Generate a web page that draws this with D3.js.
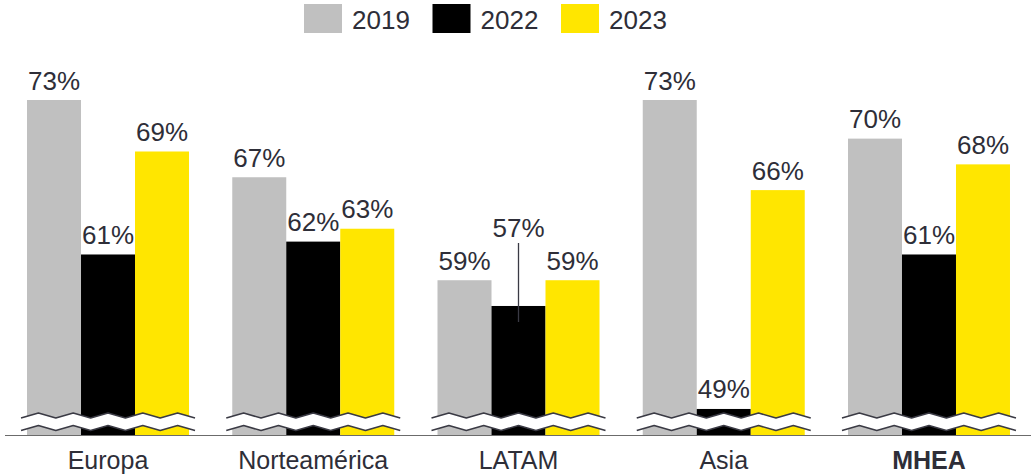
<!DOCTYPE html>
<html>
<head>
<meta charset="utf-8">
<script src="https://cdn.jsdelivr.net/npm/d3@7"></script>
<style>
  body { margin: 0; background: #fff; }
  svg { display: block; font-family: Arial, "Liberation Sans", sans-serif; }
</style>
</head>
<body>
<svg id="chart" width="1032" height="475"></svg>
<script>
// data
var categories = ["Europa", "Norteamérica", "LATAM", "Asia", "MHEA"];
var seriesNames = ["2019", "2022", "2023"];
var values2019 = [73, 67, 59, 73, 70];
var values2022 = [61, 62, 57, 49, 61];
var values2023 = [69, 63, 59, 66, 68];
var boldCategories = ["MHEA"];
// labels that sit above the bar on a leader line
var raisedLabels = [{ category: "LATAM", series: "2022", lift: 58.5 }];

var colors = { "2019": "#c0c0c0", "2022": "#000000", "2023": "#ffe600" };
var textColor = "#2e2e38";

var width = 1032,
    height = 475,
    baseline = 436;

var svg = d3.select("#chart");

var x0 = d3.scaleBand()
    .domain(categories)
    .range([5.4, 1031.6])
    .paddingInner(0.2107)
    .paddingOuter(0.1053);

var x1 = d3.scaleBand()
    .domain(seriesNames)
    .range([0, x0.bandwidth()]);

// axis is broken near the bottom, so the domain does not start at zero
var y = d3.scaleLinear()
    .domain([46.9, 73])
    .range([baseline, 100]);

var rows = categories.map(function (c, i) {
    return {
        category: c,
        values: [
            { series: "2019", value: values2019[i] },
            { series: "2022", value: values2022[i] },
            { series: "2023", value: values2023[i] }
        ]
    };
});

// legend
var legend = svg.append("g").attr("class", "legend");
var legendItem = legend.selectAll("g")
    .data(seriesNames)
    .enter().append("g")
    .attr("transform", function (d, i) { return "translate(" + (304 + i * 128.5) + ",4)"; });
legendItem.append("rect")
    .attr("width", 38)
    .attr("height", 29)
    .attr("fill", function (d) { return colors[d]; });
legendItem.append("text")
    .attr("x", 48)
    .attr("y", 24.5)
    .attr("font-size", 26)
    .attr("fill", textColor)
    .text(function (d) { return d; });

// bars
var group = svg.selectAll("g.group")
    .data(rows)
    .enter().append("g")
    .attr("class", "group")
    .attr("transform", function (d) { return "translate(" + x0(d.category) + ",0)"; });

group.selectAll("rect")
    .data(function (d) { return d.values; })
    .enter().append("rect")
    .attr("x", function (d) { return x1(d.series); })
    .attr("y", function (d) { return y(d.value); })
    .attr("width", x1.bandwidth())
    .attr("height", function (d) { return baseline - y(d.value); })
    .attr("fill", function (d) { return colors[d.series]; });

// value labels
group.each(function (row) {
    var g = d3.select(this);
    row.values.forEach(function (d) {
        var raised = raisedLabels.find(function (r) {
            return r.category === row.category && r.series === d.series;
        });
        var cx = x1(d.series) + x1.bandwidth() / 2;
        var ty = y(d.value) - 10.5;
        if (raised) {
            ty -= raised.lift;
            g.append("line")
                .attr("x1", cx).attr("x2", cx)
                .attr("y1", ty + 6).attr("y2", y(d.value) + 16)
                .attr("stroke", "#3a3a44")
                .attr("stroke-width", 1.3);
        }
        g.append("text")
            .attr("x", cx)
            .attr("y", ty)
            .attr("text-anchor", "middle")
            .attr("font-size", 26)
            .attr("fill", textColor)
            .text(d.value + "%");
    });
});

// break marks
function zigzag(x, w, top, amp, n) {
    var pts = [];
    for (var k = 0; k <= n; k++) {
        pts.push([x + k * w / n, top + (k % 2 === 0 ? amp : 0)]);
    }
    return pts;
}
group.each(function () {
    var g = d3.select(this),
        bx = -6,
        bw = x0.bandwidth() + 12,
        upper = zigzag(bx, bw, 413, 5, 10),
        lower = zigzag(bx, bw, 425.5, 5, 10);
    var band = upper.concat(lower.slice().reverse());
    g.append("path")
        .attr("d", d3.line()(band) + "Z")
        .attr("fill", "#fff");
    [upper, lower].forEach(function (pts) {
        g.append("path")
            .attr("d", d3.line()(pts))
            .attr("fill", "none")
            .attr("stroke", "#3a3a44")
            .attr("stroke-width", 1.6)
            .attr("stroke-linejoin", "round");
    });
});

// baseline
svg.append("line")
    .attr("x1", 5).attr("x2", 1031)
    .attr("y1", baseline - 0.5).attr("y2", baseline - 0.5)
    .attr("stroke", "#6b6b6b")
    .attr("stroke-width", 1.2);

// category labels
svg.selectAll("text.cat")
    .data(categories)
    .enter().append("text")
    .attr("class", "cat")
    .attr("x", function (d) { return x0(d) + x0.bandwidth() / 2; })
    .attr("y", 469)
    .attr("text-anchor", "middle")
    .attr("font-size", 25)
    .attr("font-weight", function (d) { return boldCategories.indexOf(d) >= 0 ? "bold" : "normal"; })
    .attr("fill", textColor)
    .text(function (d) { return d; });
</script>
</body>
</html>
